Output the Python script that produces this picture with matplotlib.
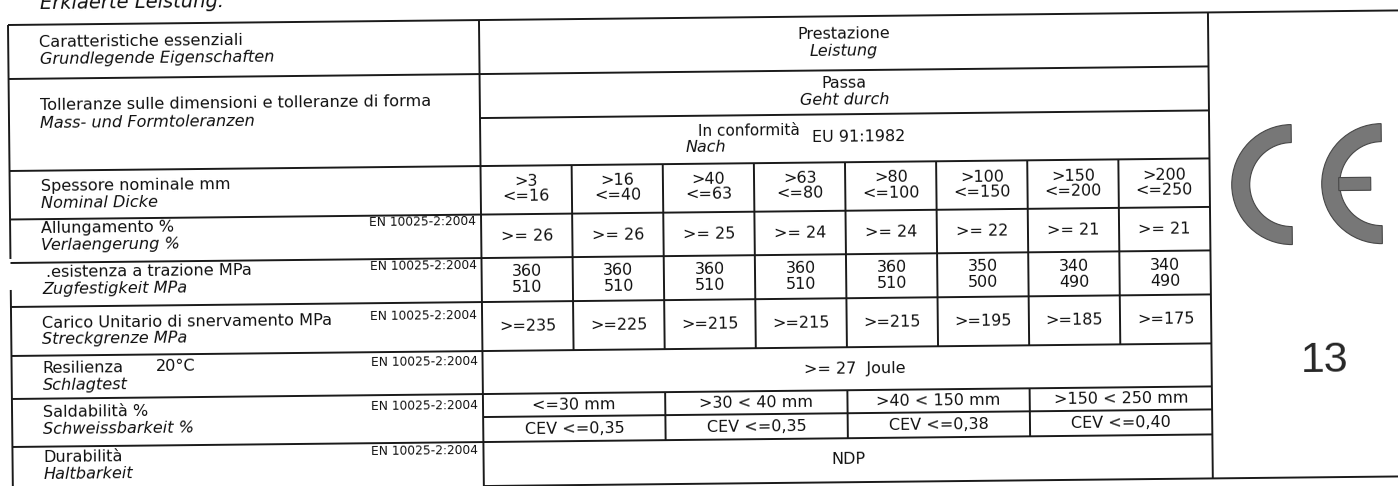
import matplotlib.pyplot as plt
from matplotlib.patches import Wedge, Rectangle
from matplotlib.transforms import Affine2D

# Content
title = "Erklaerte Leistung:"

labels_it = ["Caratteristiche essenziali",
             "Tolleranze sulle dimensioni e tolleranze di forma",
             "Spessore nominale mm",
             "Allungamento %",
             ".esistenza a trazione MPa",
             "Carico Unitario di snervamento MPa",
             "Resilienza",
             "Saldabilità %",
             "Durabilità"]
labels_de = ["Grundlegende Eigenschaften",
             "Mass- und Formtoleranzen",
             "Nominal Dicke",
             "Verlaengerung %",
             "Zugfestigkeit MPa",
             "Streckgrenze MPa",
             "Schlagtest",
             "Schweissbarkeit %",
             "Haltbarkeit"]
norm = "EN 10025-2:2004"
has_norm = [False, False, False, True, True, True, True, True, True]

thick_from = [3, 16, 40, 63, 80, 100, 150, 200]
thick_to = [16, 40, 63, 80, 100, 150, 200, 250]
elongation = [26, 26, 25, 24, 24, 22, 21, 21]
tensile_min = [360, 360, 360, 360, 360, 350, 340, 340]
tensile_max = [510, 510, 510, 510, 510, 500, 490, 490]
yield_min = [235, 225, 215, 215, 215, 195, 185, 175]
impact_joule = 27
weld_ranges = ["<=30 mm", ">30 < 40 mm", ">40 < 150 mm", ">150 < 250 mm"]
cev_max = ["0,35", "0,35", "0,38", "0,40"]
notified_body = "13"

# Layout in pixels (page is scanned slightly tilted, so everything is rotated)
row_y = [25, 79, 171, 219.5, 263, 307, 356, 399, 447, 491]
it_y = [42, 104, 186, 228, 272, 322, 368, 412, 457]
de_gap = [17, 19, 17, 17, 17, 17, 17, 17, 17]
passa_y = 123
weld_mid = 422
x_left, x_div, x_tab, x_page = 8, 479, 1208, 1430
col_w = (x_tab - x_div) / 8

LINE = dict(color="#1a1a1a", lw=1.4, solid_capstyle="butt")
FONT = "DejaVu Sans"

fig = plt.figure(figsize=(13.98, 4.86), dpi=100)
ax = fig.add_axes([0, 0, 1, 1])
ax.set_xlim(0, 1398)
ax.set_ylim(486, 0)
ax.axis("off")

rot = Affine2D().rotate_deg_around(x_left, 25, -0.6) + ax.transData


def hline(y, x0, x1):
    ax.plot([x0, x1], [y, y], transform=rot, **LINE)


def vline(x, y0, y1):
    ax.plot([x, x], [y0, y1], transform=rot, **LINE)


def txt(x, y, s, size=11.5, style="normal", ha="center", **kw):
    ax.text(x, y, s, transform=rot, transform_rotates_text=True, ha=ha, va="center",
            fontsize=size, style=style, family=FONT, color="#111111", **kw)


# title (cut by the top of the scan)
txt(40, 3, title, size=14, style="italic", ha="left")

# grid
hline(row_y[0], x_left, x_page)
for y in row_y[1:-1]:
    hline(y, x_left, x_tab)
hline(passa_y, x_div, x_tab)
hline(weld_mid, x_div, x_tab)
hline(row_y[-1], x_div, x_page)

vline(x_left, row_y[0], 259)
vline(x_left, 290, 500)
vline(x_div, row_y[0], 500)
vline(x_tab, row_y[0], row_y[-1])
for k in range(1, 8):
    vline(x_div + k * col_w, row_y[2], row_y[6])
for k in (2, 4, 6):
    vline(x_div + k * col_w, row_y[7], row_y[8])

# left column: italian / german
for i in range(len(labels_it)):
    x0 = 43 if labels_it[i].startswith(".") else 39
    txt(x0, it_y[i], labels_it[i], size=11.6, ha="left")
    txt(39, it_y[i] + de_gap[i], labels_de[i], size=11.6, style="italic", ha="left")
    if has_norm[i]:
        txt(474, it_y[i] - 1, norm, size=8.8, ha="right")
txt(152, it_y[6], "20°C", size=11.6, ha="left")

# performance header rows
xc = (x_div + x_tab) / 2
txt(xc, 43, "Prestazione")
txt(xc, 60, "Leistung", style="italic")
txt(xc, 92, "Passa")
txt(xc, 109, "Geht durch", style="italic")
txt(748, 139, "In conformità", size=11)
txt(705, 155, "Nach", style="italic")
txt(857, 146, "EU 91:1982")

# per-thickness columns
for k in range(8):
    cx = x_div + (k + 0.5) * col_w
    txt(cx, 187, ">%d" % thick_from[k])
    txt(cx, 202, "<=%d" % thick_to[k])
    txt(cx, (row_y[3] + row_y[4]) / 2, ">= %d" % elongation[k])
    txt(cx, 277, "%d" % tensile_min[k])
    txt(cx, 293, "%d" % tensile_max[k])
    txt(cx, (row_y[5] + row_y[6]) / 2, ">=%d" % yield_min[k])

txt(xc + 8, (row_y[6] + row_y[7]) / 2, ">= %d  Joule" % impact_joule)

for g in range(4):
    cx = x_div + (2 * g + 1) * col_w
    txt(cx, (row_y[7] + weld_mid) / 2, weld_ranges[g])
    txt(cx, (weld_mid + row_y[8]) / 2, "CEV <=" + cev_max[g])

txt(xc, (row_y[8] + row_y[9]) / 2 - 1, "NDP")

# CE marking and notified body number
ring_r, ring_w = 60, 18
for cx in (1290, 1380):
    ax.add_patch(Wedge((cx, 198), ring_r, 90, 270, width=ring_w, transform=rot,
                       facecolor="#777777", edgecolor="#474747", lw=0.8))
ax.add_patch(Rectangle((1380 - ring_r + ring_w - 1, 198 - 6.5), 32, 13, transform=rot,
                       facecolor="#777777", edgecolor="#474747", lw=0.8))
ax.text(1321, 375, notified_body, transform=rot, transform_rotates_text=True,
        ha="center", va="center", fontsize=31, color="#262626",
        family=["Liberation Sans Narrow", "Liberation Sans"])

fig.savefig("out.png", dpi=100, facecolor="white")
